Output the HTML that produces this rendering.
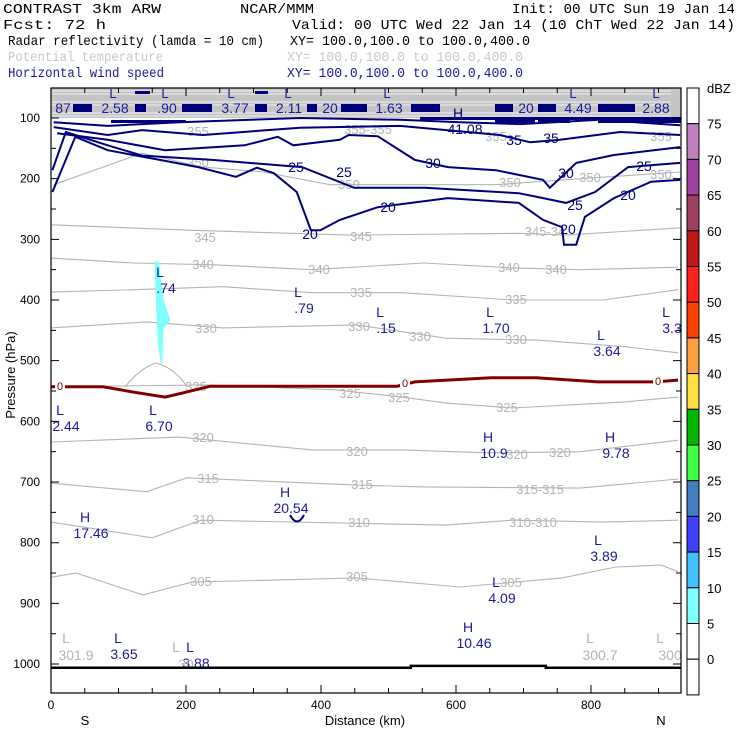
<!DOCTYPE html>
<html><head><meta charset="utf-8">
<style>
html,body{margin:0;padding:0;background:#fff;}
svg{display:block;font-family:"Liberation Sans",sans-serif;}
</style></head>
<body>
<svg id="chart" width="740" height="740" viewBox="0 0 740 740" xmlns="http://www.w3.org/2000/svg">
<g id="header" font-family="Liberation Mono, monospace" font-size="14">
 <text x="3" y="13" textLength="158" lengthAdjust="spacingAndGlyphs">CONTRAST  3km ARW</text>
 <text x="240" y="13" textLength="74" lengthAdjust="spacingAndGlyphs">NCAR/MMM</text>
 <text x="512" y="13" textLength="223" lengthAdjust="spacingAndGlyphs">Init: 00 UTC Sun 19 Jan 14</text>
 <text x="3" y="29" textLength="103" lengthAdjust="spacingAndGlyphs">Fcst:    72 h</text>
 <text x="292" y="29" textLength="443" lengthAdjust="spacingAndGlyphs">Valid: 00 UTC Wed 22 Jan 14 (10 ChT Wed 22 Jan 14)</text>
 <text x="8" y="45" textLength="256" lengthAdjust="spacingAndGlyphs">Radar reflectivity (lamda = 10 cm)</text>
 <text x="290" y="45" textLength="240" lengthAdjust="spacingAndGlyphs">XY= 100.0,100.0 to 100.0,400.0</text>
 <text x="8" y="61" fill="#c8c8c8" textLength="155" lengthAdjust="spacingAndGlyphs">Potential temperature</text>
 <text x="287" y="61" fill="#c8c8c8" textLength="236" lengthAdjust="spacingAndGlyphs">XY= 100.0,100.0 to 100.0,400.0</text>
 <text x="8" y="77" fill="#1a1a9a" textLength="156" lengthAdjust="spacingAndGlyphs">Horizontal wind speed</text>
 <text x="287" y="77" fill="#1a1a9a" textLength="236" lengthAdjust="spacingAndGlyphs">XY= 100.0,100.0 to 100.0,400.0</text>
</g>
<g id="plot"></g>
</svg>
<script>
// ---- data ----
const xTicks = [0,200,400,600,800];
const yTicks = [100,200,300,400,500,600,700,800,900,1000];
const thetaLevels = [350,345,340,335,330,325,320,315,310,305];
const thetaKm = [
 [4,135,225,315,413,659,798,932],
 [1,204,441,693,763,932],
 [0,123,242,387,552,684,784,929],
 [0,123,255,387,520,684,818,929],
 [0,142,255,453,585,719,850,929],
 [4,228,421,520,585,684,850,929],
 [0,190,387,520,652,784,929],
 [0,142,201,453,553,784,929],
 [0,150,222,453,585,684,818,929],
 [0,37,136,209,453,606,757,837,904,929]
];
const thetaP = [
 [210,158,181,189,210,210,199,189],
 [276,285,293,290,293,281],
 [331,339,342,350,339,347,350,346],
 [387,383,378,388,388,400,400,383],
 [446,436,446,441,463,466,477,487],
 [543,540,548,560,570,578,568,560],
 [634,626,647,647,652,650,631],
 [702,716,693,705,708,710,695],
 [766,792,763,768,771,763,766,763],
 [857,850,886,865,858,873,858,840,837,848]
];
const windLevels = [20,25,30,35,40];
const windKm = [
 [2,36,84,161,218,274,305,330,364,385,399,428,484,588,693,729,757,760,778,791,834,889,932],
 [2,22,84,135,239,372,449,554,693,729,763,806,855,932],
 [9,84,169,287,336,359,428,441,484,539,588,659,729,739,778,834,932],
 [4,84,135,225,369,517,665,710,754,843,932],
 [4,84,191,369,517,606,695,813,932]
];
const windP = [
 [222,131,153,169,181,197,182,191,222,285,285,268,247,232,240,268,280,309,309,263,232,205,202],
 [186,123,145,162,169,181,215,215,224,232,240,222,181,174],
 [125,136,153,145,131,145,136,128,130,169,181,186,202,215,174,161,148],
 [115,128,120,128,116,113,128,140,136,123,128],
 [107,113,107,100,103,107,110,103,112]
];
const freezeKm = [0,77,123,169,196,236,513,539,652,719,810,896,929];
const freezeP = [543,543,552,560,553,542,542,535,528,528,535,535,532];
const reflKm = [154,159,166,176,166,164,159,156];
const reflP = [337,337,400,433,446,507,474,400];
const dbzLevels = [75,70,65,60,55,50,45,40,35,30,25,20,15,10,5,0];
const dbzColors = ['#ffffff','#c080c0','#a040a0','#a04060','#c01818','#ff2020','#ff4000','#ffa040','#ffe040','#00b800','#40ff40','#4080c0','#4040ff','#40c0ff','#80ffff','#ffffff','#ffffff'];

// ---- axes ----
const X0=51, X1=681, Y0=88, Y1=693;
const X = km => X0 + km*0.675;
const Y = p => 118 + (p-100)*0.6067;
const NS='http://www.w3.org/2000/svg';
const plot=document.getElementById('plot');
function mk(tag, attrs, parent){const e=document.createElementNS(NS,tag);for(const k in attrs)e.setAttribute(k,attrs[k]);(parent||plot).appendChild(e);return e;}
function txt(s,x,y,attrs,parent){const e=mk('text',Object.assign({x:x,y:y},attrs||{}),parent);e.textContent=s;return e;}
function pts(kms,ps){return kms.map((k,i)=>X(k).toFixed(1)+','+Y(ps[i]).toFixed(1)).join(' ');}

// top gray band (dense isentropes)
let band=mk('rect',{x:X0,y:Y0,width:X1-X0,height:Y(100)-Y0,fill:'#c4c4c4'});


for(let i=0;i<6;i++){
 let d='M'+X0+','+(91+i*5);
 for(let x=X0;x<=X1;x+=20){d+=' L'+x+','+(91+i*5+((x*7+i*13)%5)-2);}
 let l=mk('path',{d:d,stroke:'#ffffff','stroke-width':0.8,fill:'none'});
 
 
}

// isentropes
thetaLevels.forEach((lv,i)=>{
 let l=mk('polyline',{points:pts(thetaKm[i],thetaP[i]),fill:'none',stroke:'#b4b4b4','stroke-width':1.1});
 
 
});
let lobe=mk('path',{d:'M125,387 Q140,368 156,363 Q175,368 187,387',fill:'none',stroke:'#b4b4b4','stroke-width':1.1});


const thetaLabels=[['355',198,136],['355-355',368,134],['355',496,141],['355',661,141],['350',198,167],['350',349,189],['350',510,187],['350',590,182],['350',661,179],
['345',205,242],['345',361,241],['345-34',545,236],['340',203,269],['340',319,274],['340',509,272],['340',556,274],['335',361,297],['335',516,304],
['330',206,333],['330',359,331],['330',420,341],['330',516,344],['325',196,391],['325',350,398],['325',399,402],['325',507,412],
['320',203,442],['320',357,456],['320',517,459],['320',560,457],['315',208,483],['315',362,489],['315-315',540,494],['310',203,524],['310',359,527],['310-310',533,527],
['305',201,586],['305',357,581],['305',511,587]];
thetaLabels.forEach(t=>{let e=txt(t[0],t[1],t[2],{fill:'#b4b4b4','font-size':13,'text-anchor':'middle'});
 
 });

// reflectivity
let refl=mk('polygon',{points:pts(reflKm,reflP),fill:'#80ffff',stroke:'#80ffff','stroke-width':1});



// wind speed
windLevels.forEach((lv,i)=>{
 let l=mk('polyline',{points:pts(windKm[i],windP[i]),fill:'none',stroke:'#00007a','stroke-width':2});
 
 
});
const windLabels=[['25',296,172],['25',344,177],['20',310,239],['20',388,212],['30',433,168],['35',514,145],['35',551,143],['30',566,178],['25',575,210],['20',568,234],['25',644,171],['20',628,200],['41.08',465,134],['H',458,118]];
windLabels.forEach(t=>{let e=txt(t[0],t[1],t[2],{fill:'#00007a','font-size':14,'text-anchor':'middle'});
 
 });
// top row of wind labels and bars
const topBars=[[73,92],[135,146],[182,212],[255,267],[307,317],[341,367],[411,440],[495,513],[538,556],[598,635]];
topBars.forEach(b=>{let r=mk('rect',{x:b[0],y:104,width:b[1]-b[0],height:8,fill:'#00007a'});
 
 });
const topSegs=[[111,186],[495,535],[538,570],[598,681],[420,681]];
topSegs.forEach((b,i)=>{let r=mk('rect',{x:b[0],y:i==4?117:120,width:b[1]-b[0],height:3,fill:'#00007a'});
 
 });
const topLabels=[['87',63],['2.58',115],['.90',167],['3.77',235],['2.11',289],['20',330],['1.63',389],['20',526],['4.49',578],['2.88',656]];
topLabels.forEach(t=>{let e=txt(t[0],t[1],113,{fill:'#1a1a9a','font-size':14,'text-anchor':'middle'});
 
 });
[113,165,231,288,387,573,656].forEach(x=>{let e=txt('L',x,98,{fill:'#1a1a9a','font-size':13,'text-anchor':'middle'});
 
 });
[[135,150],[255,268]].forEach(b=>{let r=mk('rect',{x:b[0],y:91,width:b[1]-b[0],height:3,fill:'#00007a'});
 
 });

// freezing level
let fz=mk('polyline',{points:pts(freezeKm,freezeP),fill:'none',stroke:'#800000','stroke-width':3});


[[60,390],[405,387],[658,385]].forEach(p=>{
 let bg=mk('rect',{x:p[0]-5,y:p[1]-9,width:10,height:11,fill:'#fff'});
 
 
 let e=txt('0',p[0],p[1],{fill:'#800000','font-size':11,'text-anchor':'middle'});
 
 });

// extrema labels
const ext=[['L','.74',160,272],['L','.79',298,292],['L','.15',380,312],['L','1.70',490,312],['L','3.64',601,335],['L','3.3',666,312],
['L','2.44',60,410],['L','6.70',153,410],['H','10.9',488,437],['H','9.78',610,437],['H','20.54',285,492],['H','17.46',85,517],
['L','3.89',598,540],['L','4.09',496,582],['H','10.46',468,627],['L','3.65',118,638],['L','3.88',190,647]];
ext.forEach(t=>{
 let a=txt(t[0],t[2],t[3]+5,{fill:'#1a1a9a','font-size':14,'text-anchor':'middle'});
 
 
 let b=txt(t[1],t[2]+6,t[3]+21,{fill:'#1a1a9a','font-size':14,'text-anchor':'middle'});
 
 
});
let cup=mk('path',{d:'M290,515 Q297,528 304,515',fill:'none',stroke:'#00007a','stroke-width':2});


const gext=[['L','301.9',66,638],['L','30',176,647],['L','300.7',590,638],['L','300',660,638]];
gext.forEach(t=>{
 let a=txt(t[0],t[2],t[3]+5,{fill:'#b4b4b4','font-size':14,'text-anchor':'middle'});
 
 
 let b=txt(t[1],t[2]+10,t[3]+22,{fill:'#b4b4b4','font-size':14,'text-anchor':'middle'});
 
 
});

// surface
let sf=mk('polyline',{points:pts([0,533,533,733,733,933],[1006,1006,1003,1003,1006,1006]),fill:'none',stroke:'#000','stroke-width':2.5});



// frame and ticks
let fr=mk('rect',{x:X0,y:Y0,width:X1-X0,height:Y1-Y0,fill:'none',stroke:'#000','stroke-width':1.2});


for(let p=50;p<=1050;p+=50){
 const y=Y(p); if(y<Y0||y>Y1) continue;
 const L=(p%100===0)?8:5;
 let t=mk('path',{d:`M${X0},${y}h${L}M${X1},${y}h${-L}`,stroke:'#000','stroke-width':1});
 
 
}
yTicks.forEach(p=>{let e=txt(String(p),40,Y(p)+4,{'font-size':12,'text-anchor':'end'});
 
 });
for(let k=0;k<=930;k+=50){
 const x=X(k); const L=(k%200===0)?8:5;
 let t=mk('path',{d:`M${x},${Y1}v${-L}M${x},${Y0}v${L}`,stroke:'#000','stroke-width':1});
 
 
}
xTicks.forEach(k=>{let e=txt(String(k),X(k),709,{'font-size':12,'text-anchor':'middle'});
 
 });
let s=txt('S',85,725,{'font-size':13,'text-anchor':'middle'});


let n=txt('N',661,725,{'font-size':13,'text-anchor':'middle'});


let xt=txt('Distance (km)',365,725,{'font-size':13,'text-anchor':'middle'});


let yt=txt('Pressure (hPa)',0,0,{'font-size':13,'text-anchor':'middle',transform:'translate(15,375) rotate(-90)'});



// colorbar
const CB0=88, CBH=35.7;
dbzColors.forEach((c,i)=>{
 let r=mk('rect',{x:687,y:CB0+i*CBH,width:12,height:CBH,fill:c,stroke:'#000','stroke-width':1});
 
 
});
dbzLevels.forEach((v,i)=>{let e=txt(String(v),707,CB0+(i+1)*CBH+5,{'font-size':13});
 
 });
let du=txt('dBZ',707,93,{'font-size':13});


</script>
</body></html>
